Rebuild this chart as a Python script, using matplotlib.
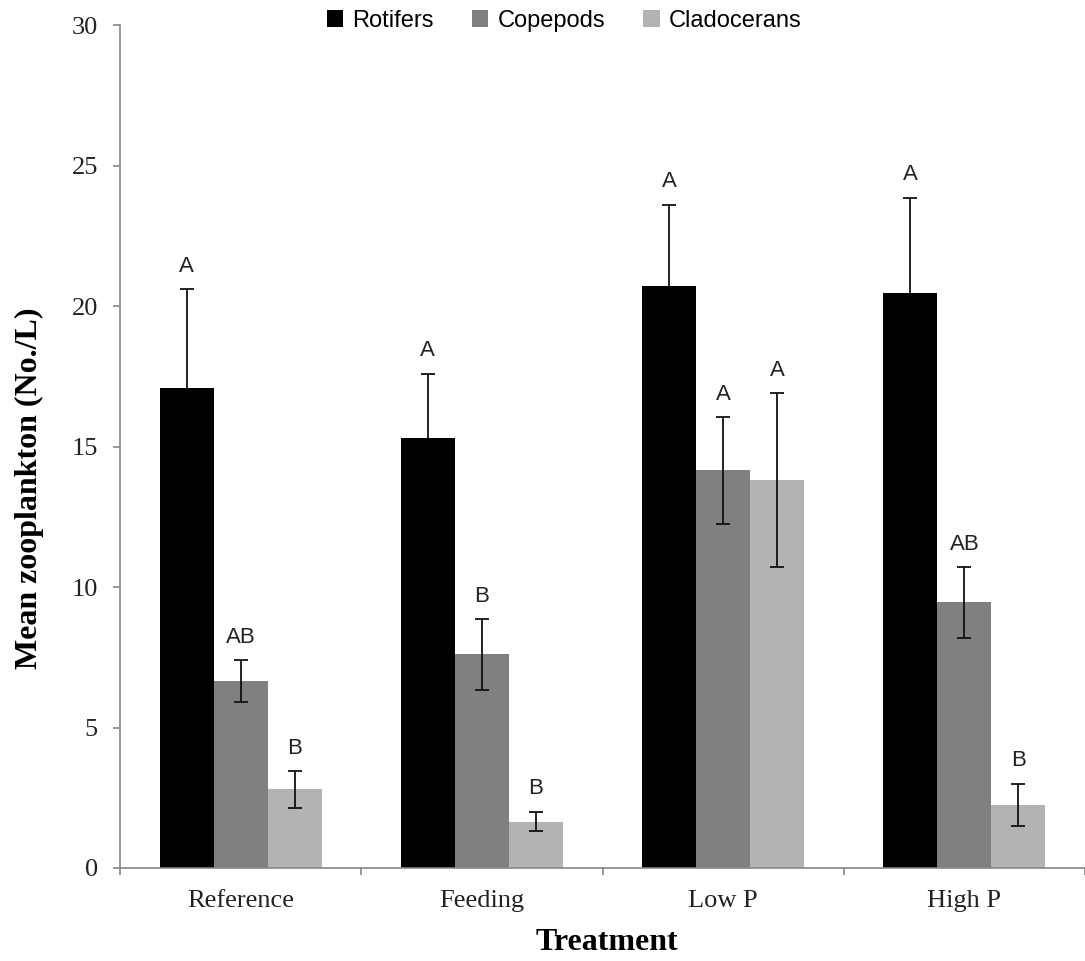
import numpy as np
import matplotlib.pyplot as plt

# Data
treatments = ["Reference", "Feeding", "Low P", "High P"]
groups = ["Rotifers", "Copepods", "Cladocerans"]
rotifers = [17.1, 15.3, 20.7, 20.45]
copepods = [6.65, 7.6, 14.15, 9.45]
cladocerans = [2.8, 1.65, 13.8, 2.25]
rotifers_err = [3.5, 2.3, 2.9, 3.4]
copepods_err = [0.75, 1.25, 1.9, 1.25]
cladocerans_err = [0.65, 0.35, 3.1, 0.75]
rotifers_lbl = ["A", "A", "A", "A"]
copepods_lbl = ["AB", "B", "A", "AB"]
cladocerans_lbl = ["B", "B", "A", "B"]

colors = ["#000000", "#808080", "#b3b3b3"]
axis_grey = "#868686"
serif = "Liberation Serif"
sans = "Liberation Sans"

fig = plt.figure(figsize=(10.85, 9.61), dpi=100)
ax = fig.add_axes([0.1106, 0.0968, 0.8894, 0.877])

x = np.arange(len(treatments))
width = 0.224
series = [
    (rotifers, rotifers_err, rotifers_lbl),
    (copepods, copepods_err, copepods_lbl),
    (cladocerans, cladocerans_err, cladocerans_lbl),
]

for i, (vals, errs, lbls) in enumerate(series):
    pos = x + (i - 1) * width
    ax.bar(pos, vals, width, color=colors[i], label=groups[i], zorder=2)
    # rotifer error bars sit behind the black bars, so only the top half shows
    ez = 1 if i == 0 else 3
    ax.errorbar(pos, vals, yerr=errs, fmt="none", ecolor="#111111",
                elinewidth=1.3, capsize=5, capthick=1.3, zorder=ez)
    for p, v, e, t in zip(pos, vals, errs, lbls):
        ax.annotate(t, (p, v + e), xytext=(0, 9), textcoords="offset points",
                    ha="center", va="bottom", fontsize=16, family=sans,
                    color="#222222")

ax.set_xlim(-0.5, len(treatments) - 0.5)
ax.set_ylim(0, 30)
ax.set_yticks(range(0, 31, 5))
ax.set_xticks(x)
ax.set_xticklabels(treatments)
ax.set_xticks(np.arange(-0.5, len(treatments), 1), minor=True)

for s in ["top", "right"]:
    ax.spines[s].set_visible(False)
for s in ["left", "bottom"]:
    ax.spines[s].set_color(axis_grey)
    ax.spines[s].set_linewidth(1.2)

ax.tick_params(axis="y", direction="out", length=5, width=1.2, color=axis_grey,
               pad=11, labelsize=19, labelcolor="#222222")
ax.tick_params(axis="x", which="major", length=0, pad=16, labelsize=19,
               labelcolor="#222222")
ax.tick_params(axis="x", which="minor", direction="out", length=5, width=1.2,
               color=axis_grey)
for lab in ax.get_xticklabels() + ax.get_yticklabels():
    lab.set_family(serif)

ax.set_ylabel("Mean zooplankton (No./L)", fontsize=23, fontweight="bold",
              family=serif)
ax.yaxis.set_label_coords(-0.079, 0.451)
ax.set_xlabel("Treatment", fontsize=23, fontweight="bold", family=serif)
ax.xaxis.set_label_coords(0.505, -0.071)

fig.legend(loc="upper center", bbox_to_anchor=(0.52, 1.012), ncol=3,
           frameon=False, prop={"family": sans, "size": 17},
           handlelength=0.7, handleheight=0.7, handletextpad=0.4,
           columnspacing=1.6)

fig.savefig("out.png", dpi=100)
